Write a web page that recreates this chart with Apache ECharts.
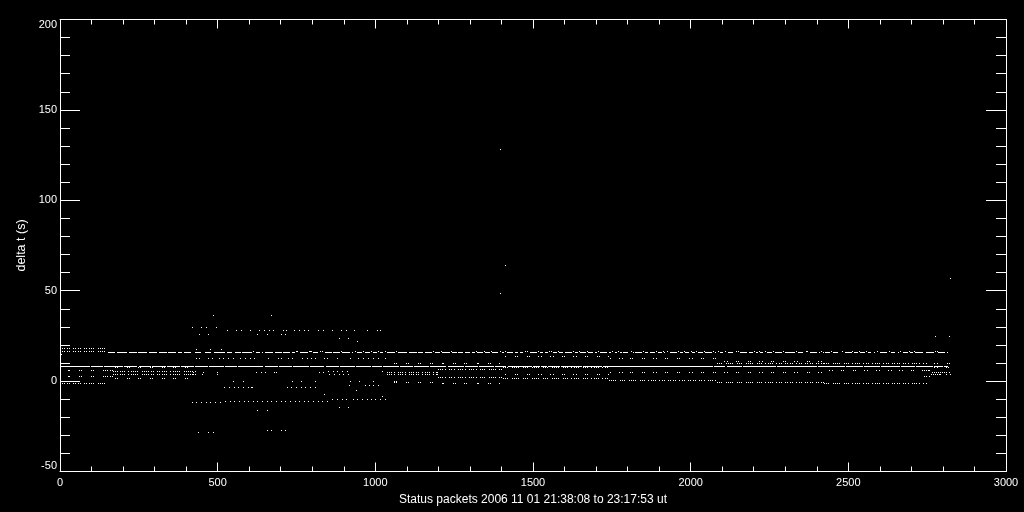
<!DOCTYPE html>
<html><head><meta charset="utf-8">
<style>html,body{margin:0;padding:0;background:#000}#c{width:1024px;height:512px}</style>
<script src="https://cdn.jsdelivr.net/npm/echarts@6/dist/echarts.min.js"></script>
</head><body><div id="c"></div>
<script>
// Chart text and scale
const xTitle = 'Status packets 2006 11 01 21:38:08 to 23:17:53 ut';
const yTitle = 'delta t (s)';

// Runs of the two main delta-t levels: [first packet, last packet]
const level16Runs = [[152,174],[181,212],[219,244],[247,276],[282,307],[314,339],[342,368],[374,387],[393,415],[428,447],[460,479],[488,523],[529,545],[555,574],[577,609],[621,634],[640,644],[650,675],[682,704],[707,729],[735,745],[761,786],[802,818],[840,862],[866,888],[894,919],[926,929],[941,957],[967,983],[992,1005],[1014,1024],[1037,1062],[1071,1100],[1106,1132],[1135,1151],[1157,1179],[1189,1205],[1211,1236],[1243,1259],[1262,1278],[1284,1300],[1306,1316],[1322,1341],[1347,1363],[1369,1388],[1401,1408],[1417,1436],[1442,1452],[1458,1468],[1490,1512],[1522,1531],[1537,1547],[1563,1576],[1582,1595],[1601,1623],[1633,1642],[1648,1667],[1674,1690],[1696,1702],[1712,1734],[1740,1747],[1759,1766],[1776,1782],[1785,1801],[1816,1820],[1823,1845],[1855,1864],[1870,1886],[1896,1908],[1915,1918],[1934,1956],[1966,1975],[1981,1994],[2003,2013],[2022,2038],[2045,2067],[2076,2080],[2092,2102],[2118,2134],[2156,2178],[2184,2197],[2206,2213],[2219,2229],[2241,2257],[2267,2289],[2298,2330],[2340,2356],[2378,2400],[2406,2409],[2419,2421],[2425,2441],[2450,2466],[2489,2511],[2517,2530],[2536,2552],[2562,2571],[2581,2584],[2600,2622],[2635,2647],[2657,2659],[2672,2688],[2695,2704],[2711,2736],[2745,2771],[2784,2806],[2812,2815]];
const level16Dots = [613,748,753,790,795,793,824,832,892,934,961,987,1009,1030,1066,1184,1208,1240,1318,1344,1366,1394,1412,1474,1481,1516,1552,1558,1578,1628,1645,1670,1707,1752,1771,1811,1850,1891,1911,1925,1961,1978,2000,2018,2041,2072,2086,2110,2145,2150,2201,2216,2235,2262,2294,2335,2365,2370,2414,2445,2480,2513,2534,2557,2592,2628,2665,2692,2708,2776,2780];
const level8Runs = [[3,95],[98,136],[139,200],[203,245],[249,290],[293,335],[339,380],[384,425],[429,470],[474,520],[524,560],[564,645],[649,690],[694,735],[739,790],[794,838],[842,885],[889,935],[939,985],[989,1020],[1024,1075],[1079,1120],[1124,1170],[1174,1225],[1229,1280],[1284,1325],[1329,1375],[1379,1415],[1420,1496],[1500,1522],[1526,1544],[1547,1585],[1589,1654],[1658,1718],[1722,2070],[2074,2110],[2114,2162],[2166,2270],[2274,2400],[2403,2489],[2493,2546],[2550,2600],[2604,2663],[2667,2711],[2715,2768],[2772,2800],[2804,2815]];

// Dotted stretches, packet numbers
const startDots = [7,14,21,28,42,49,56,63,77,84,91,98,105,119,126,133,140];
const startPairs = [24,30,60,66,98,104,136,143,150,157,165];
const denseA = [168,175,182,189,196,203,217,224,231,238,245,259,266,273,280,287,294,308,315,322,329,336,350,357,364,371,378,392,399,406,413,420,428];
const denseB = [1037,1044,1051,1058,1072,1079,1086,1093,1107,1114,1121,1128,1135,1149,1156,1163,1170,1184,1191,1195];
const denseC = [1199,1206,1213,1220,1234,1241,1248,1262,1269,1276,1283,1297,1304,1311,1318,1332,1339,1346,1360,1367,1374,1381,1391,1398];
const denseD = [1405,1412,1419,1433,1440,1447,1454,1468,1475,1482,1496,1503,1510,1517,1531,1538,1545,1559,1566,1573,1580,1594,1601,1608,1622,1629,1636,1643,1657,1664,1671,1685,1692,1699,1706,1720,1727,1735];
const denseE = [1740,1747,1754,1761,1775,1782,1789,1803,1810,1817,1824,1838,1845,1852,1866,1873,1880,1887,1901,1908,1915,1929,1936,1943,1950,1964,1971,1978,1992,1999,2006,2013,2027,2034,2041,2055,2062,2069,2076];
const denseF = [2083,2090,2097,2111,2118,2125,2132,2146,2153,2160,2174,2181,2188,2195,2209,2216,2223,2237,2244,2251,2258,2272,2279,2286,2300,2307,2314,2321,2335,2342,2349,2363,2370,2377,2384,2398,2405,2412,2419];
const denseG = [2422,2429,2436,2450,2457,2464,2471,2485,2492,2499,2513,2520,2527,2534,2548,2555,2562,2576,2583,2590,2597,2611,2618,2625,2639,2646,2653,2660,2674,2681,2688,2702,2709,2716,2723,2737,2745];

// Periodic pairs
const pairs1 = [175,180,212,218,247,254,285,292,323,330,358,365,396,402];
const pairs2 = [1059,1065,1097,1103,1135,1141,1173,1179];
const pairs3 = [1211,1214,1246,1252,1281,1287,1322,1325,1357,1363,1392];
const pairs4 = [1411,1443,1449,1480,1487,1515,1525,1553,1563,1591,1598,1626,1636,1664,1671,1702,1709,1737];
const pairs5 = [1744,1772,1782,1807,1813,1845,1851,1880,1889,1918,1924,1956,1963,1994,2003,2032,2038,2070,2076];
const pairs6 = [2105,2115,2143,2149,2181,2187,2216,2225,2254,2260,2292,2298,2327,2336,2368,2374,2403,2412];
const pairs7 = [2438,2447,2476,2482,2514,2520,2549,2558,2587,2596,2625,2634,2660,2669,2698,2704];

// Scattered points around packets 400-1050
const s365 = [485,669];
const s295 = [418,447,463,495];
const s28 = [529,558,574,602,631,647,663,675,707,716,742,758,774,787,818,834,862,891,907,932,973,1005,1014];
const s257 = [441,469,624,656,701,713];
const s235 = [884,913];
const s218 = [941];
const s174 = [431,475,510];
const s123 = [431,441,469,482,504,517,533,548,571,586,602,615,659,691,701,723,736,767,783,796,808,837,846,878,919,945,961,976,992,1008,1030];
const s48 = [422,453,498,621,637,650,678,685,821,834];
const s52 = [850,866,878,894,910,1021];
const s34 = [422,450,498,853,869,884,897,913];
const s0 = [548,580,735,764,808,919,948,992,1059,1065];
const sm25 = [916,967,980,992,1008];
const sm38 = [520,536,552,564,580,596,605,609,720,732,748,764,777,792,808];
const sm5 = [938];
const sm76 = [837];
const sm87 = [1021];
const sm102 = [862,878,894,907,929,941,957,973,986,999,1014,1030];
const sm113 = [523,538,552,567,582,596,611,626,641,655,670,685,700,715,729,744,758,773,788,803,817,832,846];
const sm12 = [418,431,447,463,475,491,507];
const sm148 = [884,913];
const sm16 = [624,656];
const sm275 = [656,669,701,713];
const sm287 = [437,469,485];

// Final stretch and isolated outliers
const end61 = [2733,2739,2746,2752,2755];
const end23 = [2739,2746,2755];
const end34 = [2761,2767,2774,2780,2787,2790,2809,2822];
const end50 = [2765,2771,2777,2784,2790,2796,2803,2809,2819];
const end73 = [2771,2780,2809,2815];
const end95 = [2771,2780,2812,2818];
const outliers = [[1395,128],[1411,64],[1395,48.7],[2822,56.7],[2775,24.6],[2819,24.6],[3,14.6]];

const dotRows = [
 [18.3,startDots],[16.1,startDots],[-1.5,startDots],[6,startPairs],[2.4,startPairs],[16.1,level16Dots],
 [5.4,denseA],[3.6,denseA],[5,denseB],[3.4,denseB],[6.2,denseC],[2.1,denseC],[7.3,denseD],[1.2,denseD],
 [0.1,denseE],[9.5,denseF],[-0.5,denseF],[10,denseG],[-1.5,denseG],
 [7.3,pairs1],[1.2,pairs1],[9.5,pairs2],[-0.5,pairs2],[10,pairs3],[-1.5,pairs3],[13.4,pairs4],[3.4,pairs4],
 [12.3,pairs5],[4.5,pairs5],[11.1,pairs6],[5,pairs6],[6.1,pairs7],
 [36.5,s365],[29.5,s295],[28,s28],[25.7,s257],[23.5,s235],[21.8,s218],[17.4,s174],[12.3,s123],[4.8,s48],[5.2,s52],[3.4,s34],[0,s0],
 [-2.5,sm25],[-3.8,sm38],[-5,sm5],[-7.6,sm76],[-8.7,sm87],[-10.2,sm102],[-11.3,sm113],[-12,sm12],[-14.8,sm148],[-16,sm16],[-27.5,sm275],[-28.7,sm287],
 [6.1,end61],[2.3,end23],[3.4,end34],[5,end50],[7.3,end73],[9.5,end95]
];

const marks = [];
level16Runs.forEach(r => marks.push([r[0], r[1], 16]));
level8Runs.forEach(r => marks.push([r[0], r[1], 8.2]));
dotRows.forEach(([y, xs]) => xs.forEach(x => marks.push([x, x, y])));
outliers.forEach(([x, y]) => marks.push([x, x, y]));

const font = {color:'#fff', fontFamily:'"Liberation Sans"', fontSize:11};
const plain = v => String(v);
function axisCommon(major, minor){
  return {
    axisLine:{show:true, onZero:false, lineStyle:{color:'#fff', width:1}},
    axisTick:{show:true, inside:true, length:major, lineStyle:{color:'#fff', width:1}},
    minorTick:{show:true, splitNumber:5, length:minor, lineStyle:{color:'#fff', width:1}},
    splitLine:{show:false}, minorSplitLine:{show:false},
    axisLabel:{show:false}
  };
}
const xBase = {type:'value', min:0, max:3000, interval:500};
const yBase = {type:'value', min:-50, max:200, interval:50};

const chart = echarts.init(document.getElementById('c'), null, {renderer:'canvas'});
chart.setOption({
  backgroundColor:'#000',
  animation:false,
  grid:{left:60, top:19.5, width:946, height:452, containLabel:false},
  xAxis:[
    {...xBase, ...axisCommon(9,5), position:'bottom', name:xTitle, nameLocation:'middle', nameGap:15,
      nameTextStyle:{...font, fontSize:12},
      axisLabel:{...font, show:true, margin:6, formatter:plain, showMinLabel:true, showMaxLabel:true}},
    {...xBase, ...axisCommon(9,5), position:'top'}
  ],
  yAxis:[
    {...yBase, ...axisCommon(20,10), position:'left', name:yTitle, nameLocation:'middle', nameGap:28,
      nameTextStyle:{...font, fontSize:12.5},
      axisLabel:{...font, show:true, margin:3, formatter:plain, showMinLabel:true, showMaxLabel:true,
        verticalAlignMaxLabel:'top', verticalAlignMinLabel:'bottom'}},
    {...yBase, ...axisCommon(20,10), position:'right'}
  ],
  series:[{
    type:'custom', silent:true, clip:true, coordinateSystem:'cartesian2d',
    encode:{x:[0,1], y:2}, data:marks,
    renderItem(params, api){
      const a = api.coord([api.value(0), api.value(2)]);
      const b = api.coord([api.value(1), api.value(2)]);
      const x0 = Math.round(a[0]), x1 = Math.round(b[0]);
      return {type:'rect', shape:{x:x0, y:Math.floor(a[1]), width:Math.max(1, x1-x0), height:1}, style:{fill:'#fff'}};
    }
  }]
});
</script></body></html>
